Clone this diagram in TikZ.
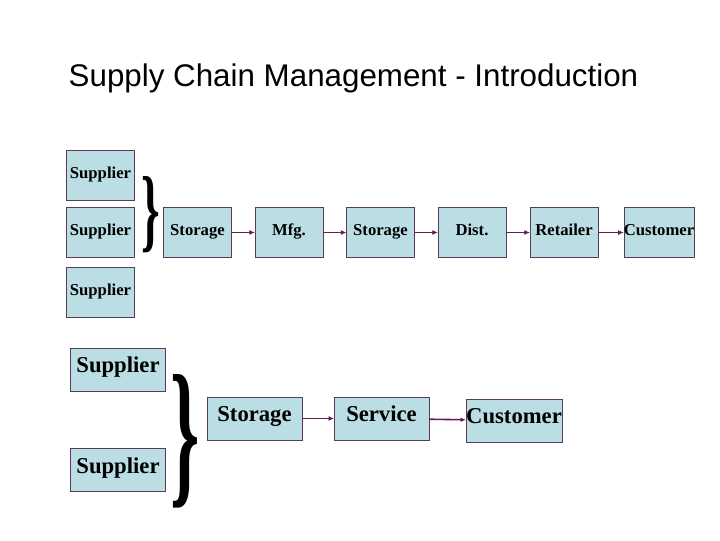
\documentclass[tikz,border=0pt]{standalone}
\usepackage{fontspec}
\setmainfont{Liberation Serif}
\newfontfamily\titlefont{Liberation Sans}
\usetikzlibrary{arrows.meta}
\definecolor{boxfill}{RGB}{186,222,228}
\definecolor{boxline}{RGB}{90,60,90}
\definecolor{arrowcol}{RGB}{100,30,80}
\tikzset{
  stage/.style={draw=boxline, fill=boxfill, inner sep=0pt, text height=1.5ex, text depth=0.4ex},
  small/.style={stage, minimum width=51pt, minimum height=37.5pt, font=\bfseries\fontsize{12.5}{15}\selectfont},
  big/.style={stage, minimum width=71pt, minimum height=32.5pt, font=\bfseries\fontsize{17}{20}\selectfont},
  flow/.style={draw=arrowcol, -{Latex[length=4pt,width=3.5pt]}}
}
\begin{document}
\begin{tikzpicture}[x=0.75pt, y=-0.75pt]
  \useasboundingbox (0,0) rectangle (720,540);
  % title
  \node[anchor=west, font=\titlefont\fontsize{23.5}{28}\selectfont] (title) at (64,78) {Supply Chain Management - Introduction};

  % upper chain
  \node[small] (sup1) at (100.5,175) {Supplier};
  \node[small] (sup2) at (100.5,232.5) {Supplier};
  \node[small] (sup3) at (100.5,292.5) {Supplier};
  \node[inner sep=0pt] (brace1) at (151,215) {\resizebox{14pt}{48pt}{\bfseries\}}};
  \node[small] (sto1) at (197.5,232.5) {Storage};
  \node[small] (mfg) at (289,232.5) {Mfg.};
  \node[small] (sto2) at (380.5,232.5) {Storage};
  \node[small] (dist) at (472,232.5) {Dist.};
  \node[small] (ret) at (564,232.5) {Retailer};
  \node[small] (cust1) at (659,232.5) {Customer};
  \draw[flow] (sto1) -- (mfg);
  \draw[flow] (mfg) -- (sto2);
  \draw[flow] (sto2) -- (dist);
  \draw[flow] (dist) -- (ret);
  \draw[flow] (ret) -- (cust1);

  % lower chain
  \node[big] (sup4) at (118,369.5) {Supplier};
  \node[big] (sup5) at (118,470) {Supplier};
  \node[inner sep=0pt] (brace2) at (185,441) {\resizebox{22pt}{84pt}{\bfseries\}}};
  \node[big] (sto3) at (254.5,418.5) {Storage};
  \node[big] (serv) at (381.5,418.5) {Service};
  \node[big] (cust2) at (514,420.5) {Customer};
  \draw[flow] (sto3) -- (serv);
  \draw[flow, line width=1.2pt] (serv) -- (cust2);
\end{tikzpicture}
\end{document}
